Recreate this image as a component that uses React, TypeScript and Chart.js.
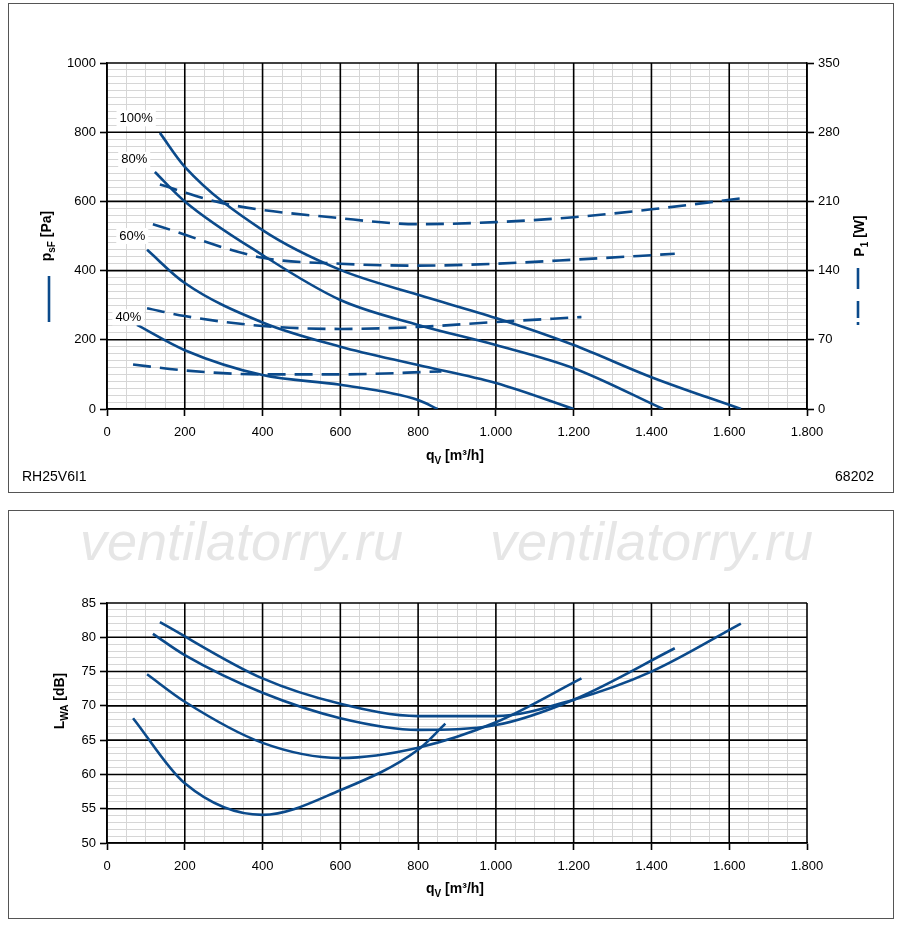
import React, { useEffect, useRef } from "react";
import { Chart, registerables } from "chart.js";
Chart.register(...registerables);

const BLUE = "#0b4a8b";
const FONT = "'Liberation Sans', Arial, sans-serif";

// Pressure curves (q [m3/h], p [Pa])
const p100Q = [136, 200, 400, 600, 800, 1000, 1200, 1400, 1630];
const p100V = [798, 700, 517, 402, 330, 263, 185, 92, 0];
const p80Q = [123, 200, 400, 600, 800, 1000, 1200, 1430];
const p80V = [685, 600, 445, 315, 243, 185, 118, 0];
const p60Q = [103, 200, 400, 600, 800, 1000, 1200];
const p60V = [460, 364, 250, 180, 127, 75, 0];
const p40Q = [77, 200, 400, 600, 800, 850];
const p40V = [243, 170, 98, 70, 26, 0];
// Power curves (q, W)
const w100Q = [136, 300, 600, 800, 1000, 1200, 1400, 1630];
const w100V = [227, 208, 193, 187, 189, 194, 202, 213];
const w80Q = [118, 400, 600, 800, 1000, 1200, 1460];
const w80V = [187, 153, 147, 145, 147, 151, 157];
const w60Q = [103, 200, 400, 600, 800, 1000, 1220];
const w60V = [102, 94, 84, 81, 83, 88, 93];
const w40Q = [67, 200, 400, 600, 860];
const w40V = [45, 39, 35, 35, 38];
// Sound power (q, dB)
const l100Q = [136, 400, 600, 800, 1000, 1200, 1400, 1630];
const l100V = [82.2, 74, 70.3, 68.5, 68.5, 70.9, 75, 82];
const l80Q = [118, 200, 400, 600, 800, 1000, 1200, 1460];
const l80V = [80.5, 77.4, 71.9, 68.2, 66.5, 67.2, 70.9, 78.4];
const l60Q = [103, 200, 400, 600, 800, 1000, 1220];
const l60V = [74.6, 70.6, 64.6, 62.4, 63.9, 67.6, 74];
const l40Q = [67, 200, 400, 600, 800, 870];
const l40V = [68.2, 58.7, 54.1, 57.7, 63.6, 67.4];
// Speed labels
const speedLabels = ["100%", "80%", "60%", "40%"];
const labelQ = [75, 70, 65, 55];
const labelP = [840, 720, 500, 265];

const pts = (q: number[], v: number[]) => q.map((x, i) => ({ x, y: v[i] }));
const fmt = (v: number) => (v >= 1000 ? Math.floor(v / 1000) + "." + String(v % 1000).padStart(3, "0") : String(v));

function ds(data: any, axis: string, dashed: boolean) {
  return {
    data, yAxisID: axis, borderColor: BLUE, borderWidth: 2.6, pointRadius: 0,
    tension: 0.4, cubicInterpolationMode: "monotone", fill: false,
    borderDash: dashed ? [18, 9] : [],
  };
}

const TRANSPARENT = "rgba(0,0,0,0)";
const MINOR = "#d6d6d6";

function xScale(extra: any = {}) {
  return {
    type: "linear", min: 0, max: 1800,
    ticks: { stepSize: 50, autoSkip: false, maxRotation: 0, color: "#000", font: { family: FONT, size: 13 }, padding: 9,
      callback: (v: number) => (v % 200 === 0 ? fmt(v) : "") },
    grid: { color: (c: any) => (c.tick.value % 200 === 0 ? TRANSPARENT : MINOR), lineWidth: 1,
      tickColor: (c: any) => (c.tick.value % 200 === 0 ? "#000" : TRANSPARENT), tickLength: 7, tickWidth: 1.6 },
    border: { color: "#000", width: 1.6 },
    ...extra,
  };
}

function yGrid(major: number) {
  return {
    color: (c: any) => (Math.abs(c.tick.value % major) < 1e-6 ? TRANSPARENT : MINOR), lineWidth: 1,
    tickColor: (c: any) => (Math.abs(c.tick.value % major) < 1e-6 ? "#000" : TRANSPARENT), tickLength: 7, tickWidth: 1.6,
  };
}

function majorGridPlugin(yMajor: number) {
  return {
    id: "majors",
    beforeDatasetsDraw(chart: any) {
      const { ctx, chartArea: a } = chart;
      const xs = chart.scales.x, ys = chart.scales.y;
      ctx.save();
      ctx.strokeStyle = "#000";
      ctx.lineWidth = 1.6;
      for (let v = 0; v <= 1800; v += 200) {
        const px = xs.getPixelForValue(v);
        ctx.beginPath(); ctx.moveTo(px, a.top); ctx.lineTo(px, a.bottom); ctx.stroke();
      }
      for (let v = ys.min; v <= ys.max + 1e-6; v += yMajor) {
        const py = ys.getPixelForValue(v);
        ctx.beginPath(); ctx.moveTo(a.left, py); ctx.lineTo(a.right, py); ctx.stroke();
      }
      ctx.restore();
    },
  };
}

function vertText(ctx: any, x: number, y: number, main: string, sub: string, rest: string) {
  ctx.save();
  ctx.translate(x, y);
  ctx.rotate(-Math.PI / 2);
  ctx.font = `bold 14px ${FONT}`;
  const w1 = ctx.measureText(main).width;
  ctx.font = `bold 10px ${FONT}`;
  const w2 = ctx.measureText(sub).width;
  ctx.font = `bold 14px ${FONT}`;
  const w3 = ctx.measureText(rest).width;
  let s = -(w1 + w2 + w3) / 2;
  ctx.fillStyle = "#000";
  ctx.textBaseline = "alphabetic";
  ctx.fillText(main, s, 5); s += w1;
  ctx.font = `bold 10px ${FONT}`;
  ctx.fillText(sub, s, 9); s += w2;
  ctx.font = `bold 14px ${FONT}`;
  ctx.fillText(rest, s, 5);
  ctx.restore();
}
function horizText(ctx: any, x: number, y: number, main: string, sub: string, rest: string) {
  ctx.save();
  ctx.font = `bold 14px ${FONT}`;
  const w1 = ctx.measureText(main).width;
  ctx.font = `bold 10px ${FONT}`;
  const w2 = ctx.measureText(sub).width;
  ctx.font = `bold 14px ${FONT}`;
  const w3 = ctx.measureText(rest).width;
  let s = x - (w1 + w2 + w3) / 2;
  ctx.fillStyle = "#000";
  ctx.fillText(main, s, y); s += w1;
  ctx.font = `bold 10px ${FONT}`;
  ctx.fillText(sub, s, y + 4); s += w2;
  ctx.font = `bold 14px ${FONT}`;
  ctx.fillText(rest, s, y);
  ctx.restore();
}

function TopChart() {
  const ref = useRef<HTMLCanvasElement>(null);
  useEffect(() => {
    const plugin = {
      id: "deco",
      afterDraw(chart: any) {
        const ctx = chart.ctx;
        const xs = chart.scales.x, ys = chart.scales.y;
        ctx.save();
        ctx.font = `13px ${FONT}`;
        ctx.textBaseline = "middle";
        speedLabels.forEach((t, i) => {
          const px = xs.getPixelForValue(labelQ[i]), py = ys.getPixelForValue(labelP[i]);
          const w = ctx.measureText(t).width;
          ctx.fillStyle = "#fff";
          ctx.fillRect(px - w / 2 - 3, py - 8, w + 6, 16);
          ctx.fillStyle = "#000";
          ctx.textAlign = "center";
          ctx.fillText(t, px, py);
        });
        ctx.restore();
        vertText(ctx, 37, 232, "p", "sF", " [Pa]");
        vertText(ctx, 850, 232, "P", "1", " [W]");
        horizText(ctx, 446, 456, "q", "V", " [m³/h]");
        ctx.save();
        ctx.strokeStyle = BLUE; ctx.lineWidth = 2.6;
        ctx.beginPath(); ctx.moveTo(40, 272); ctx.lineTo(40, 318); ctx.stroke();
        ctx.beginPath(); ctx.moveTo(849, 264); ctx.lineTo(849, 285); ctx.stroke();
        ctx.beginPath(); ctx.moveTo(849, 297); ctx.lineTo(849, 314); ctx.stroke();
        ctx.beginPath(); ctx.moveTo(849, 318); ctx.lineTo(849, 321); ctx.stroke();
        ctx.restore();
      },
    };
    const chart = new Chart(ref.current!, {
      type: "line",
      data: {
        datasets: [
          ds(pts(p100Q, p100V), "y", false), ds(pts(p80Q, p80V), "y", false),
          ds(pts(p60Q, p60V), "y", false), ds(pts(p40Q, p40V), "y", false),
          ds(pts(w100Q, w100V), "y2", true), ds(pts(w80Q, w80V), "y2", true),
          ds(pts(w60Q, w60V), "y2", true), ds(pts(w40Q, w40V), "y2", true),
        ] as any,
      },
      options: {
        animation: false, responsive: false, devicePixelRatio: 1,
        layout: { padding: { top: 59, left: 0, right: 0, bottom: 0 } },
        plugins: { legend: { display: false }, tooltip: { enabled: false } },
        scales: {
          x: xScale({ afterFit: (s: any) => { s.height = 83; } }),
          y: {
            min: 0, max: 1000, position: "left",
            afterFit: (s: any) => { s.width = 98; },
            ticks: { stepSize: 20, autoSkip: false, color: "#000", font: { family: FONT, size: 13 }, padding: 4,
              callback: (v: number) => (v % 200 === 0 ? String(v) : "") },
            grid: yGrid(200),
            border: { color: "#000", width: 1.6 },
          },
          y2: {
            min: 0, max: 350, position: "right",
            afterFit: (s: any) => { s.width = 86; },
            ticks: { stepSize: 70, color: "#000", font: { family: FONT, size: 13 }, padding: 4 },
            grid: { drawOnChartArea: false, tickLength: 7, tickColor: "#000", tickWidth: 1.6 },
            border: { color: "#000", width: 1.6 },
          },
        } as any,
      },
      plugins: [majorGridPlugin(200), plugin],
    });
    return () => chart.destroy();
  }, []);
  return <canvas ref={ref} width={884} height={488} style={{ width: 884, height: 488, display: "block" }} />;
}

function BottomChart() {
  const ref = useRef<HTMLCanvasElement>(null);
  useEffect(() => {
    const plugin = {
      id: "deco2",
      afterDraw(chart: any) {
        const ctx = chart.ctx;
        vertText(ctx, 50, 190, "L", "WA", " [dB]");
        horizText(ctx, 446, 382, "q", "V", " [m³/h]");
      },
    };
    const chart = new Chart(ref.current!, {
      type: "line",
      data: {
        datasets: [
          ds(pts(l100Q, l100V), "y", false), ds(pts(l80Q, l80V), "y", false),
          ds(pts(l60Q, l60V), "y", false), ds(pts(l40Q, l40V), "y", false),
        ] as any,
      },
      options: {
        animation: false, responsive: false, devicePixelRatio: 1,
        layout: { padding: { top: 92, left: 0, right: 86, bottom: 0 } },
        plugins: { legend: { display: false }, tooltip: { enabled: false } },
        scales: {
          x: xScale({ afterFit: (s: any) => { s.height = 75; } }),
          y: {
            min: 50, max: 85, position: "left",
            afterFit: (s: any) => { s.width = 98; },
            ticks: { stepSize: 1, autoSkip: false, color: "#000", font: { family: FONT, size: 13 }, padding: 4,
              callback: (v: number) => (v % 5 === 0 ? String(v) : "") },
            grid: yGrid(5),
            border: { color: "#000", width: 1.6 },
          },
        } as any,
      },
      plugins: [majorGridPlugin(5), plugin],
    });
    return () => chart.destroy();
  }, []);
  return <canvas ref={ref} width={884} height={407} style={{ width: 884, height: 407, display: "block" }} />;
}

export default function App() {
  const box: React.CSSProperties = { position: "absolute", left: 8, width: 884, border: "1px solid #555", background: "#fff" };
  const wm: React.CSSProperties = { position: "absolute", top: 510, zIndex: 2, fontFamily: FONT, fontStyle: "italic", fontSize: 54, color: "#e6e6e6", whiteSpace: "nowrap", pointerEvents: "none" };
  return (
    <div style={{ position: "absolute", left: 0, top: 0, width: 900, height: 925, background: "#fff", fontFamily: FONT }}>
      <div style={{ ...box, top: 3, height: 488 }}>
        <TopChart />
        <div style={{ position: "absolute", left: 13, top: 464, fontSize: 14 }}>RH25V6I1</div>
        <div style={{ position: "absolute", right: 19, top: 464, fontSize: 14 }}>68202</div>
      </div>
      <div style={{ ...box, top: 510, height: 407 }}>
        <BottomChart />
      </div>
      <div style={{ ...wm, left: 80 }}>ventilatorry.ru</div>
      <div style={{ ...wm, left: 490 }}>ventilatorry.ru</div>
    </div>
  );
}
